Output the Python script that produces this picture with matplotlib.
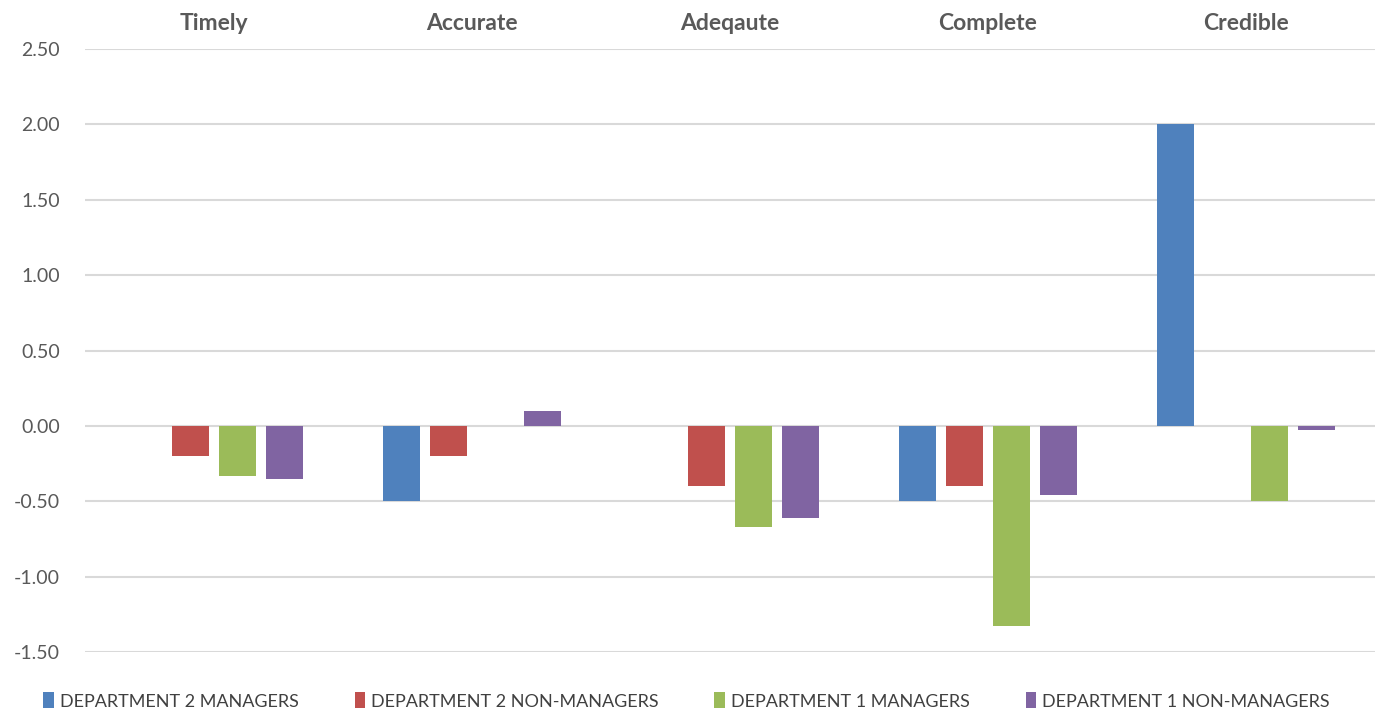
import numpy as np
import matplotlib.pyplot as plt

plt.rcParams['font.family'] = ['Lato', 'DejaVu Sans']

categories = ["Timely", "Accurate", "Adeqaute", "Complete", "Credible"]
series_names = ["DEPARTMENT 2 MANAGERS", "DEPARTMENT 2 NON-MANAGERS",
                "DEPARTMENT 1 MANAGERS", "DEPARTMENT 1 NON-MANAGERS"]
dept2_managers = [0.00, -0.50, 0.00, -0.50, 2.00]
dept2_non_managers = [-0.20, -0.20, -0.40, -0.40, 0.00]
dept1_managers = [-0.33, 0.00, -0.67, -1.33, -0.50]
dept1_non_managers = [-0.35, 0.10, -0.61, -0.46, -0.03]
y_ticks = [2.5, 2.0, 1.5, 1.0, 0.5, 0.0, -0.5, -1.0, -1.5]

colors = ["#4F81BD", "#C0504D", "#9BBB59", "#8064A2"]
series = [dept2_managers, dept2_non_managers, dept1_managers, dept1_non_managers]

fig = plt.figure(figsize=(13.77, 7.13), dpi=100)
ax = fig.add_axes([85 / 1377, 1 - 652 / 713, 1290 / 1377, 603 / 713])

x = np.arange(len(categories))
step = 0.182
width = 0.143
for i, (vals, name, c) in enumerate(zip(series, series_names, colors)):
    ax.bar(x + (i - 1.5) * step, vals, width=width, color=c, label=name,
           linewidth=0, zorder=3)

ax.set_xlim(-0.5, len(categories) - 0.5)
ax.set_ylim(-1.5, 2.5)
ax.set_yticks(y_ticks)
ax.set_yticklabels([f"{v:.2f}" for v in y_ticks])
ax.grid(axis='y', color='#d9d9d9', linewidth=1.5, zorder=0)
ax.set_axisbelow(True)
for s in ax.spines.values():
    s.set_visible(False)

ax.xaxis.tick_top()
ax.set_xticks(x)
ax.set_xticklabels(categories, fontweight='bold')
ax.tick_params(axis='x', length=0, pad=11, labelsize=16.5, labelcolor='#595959')
ax.tick_params(axis='y', length=0, pad=18, labelsize=14, labelcolor='#595959')

fig.legend(loc='lower center', bbox_to_anchor=(0.4985, -0.018), ncol=4, frameon=False,
           fontsize=13, labelcolor='#404040', handlelength=0.6, handleheight=1.0,
           handletextpad=0.3, columnspacing=3.1)

fig.savefig("out.png", dpi=100)
